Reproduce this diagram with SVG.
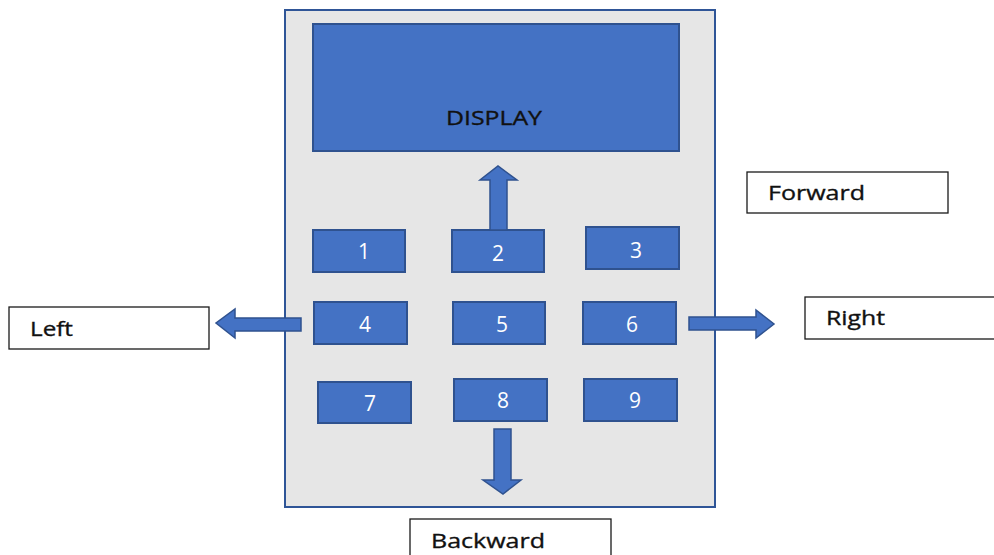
<svg xmlns="http://www.w3.org/2000/svg" width="994" height="555" viewBox="0 0 994 555">
  <style>
    .panel { fill: #e6e6e6; stroke: #2f5597; stroke-width: 2; }
    .key { fill: #4472c4; stroke: #2f528f; stroke-width: 2; }
    .keytxt { font-family: "Open Sans", "Liberation Sans", sans-serif; font-size: 21px; fill: #ffffff; text-anchor: middle; }
    .label { fill: #ffffff; stroke: #1a1a1a; stroke-width: 1.3; }
    .labtxt { font-family: "Open Sans", "Liberation Sans", sans-serif; font-size: 20px; fill: #111111; stroke: #111111; stroke-width: 0.35; }
    .arrow { fill: #4472c4; stroke: #2f528f; stroke-width: 1.5; }
  </style>

  <!-- keypad housing -->
  <g id="panel">
    <rect class="panel" x="285" y="10" width="430" height="497"/>
  </g>

  <!-- screen -->
  <g id="display">
    <rect class="key" x="313" y="24" width="366" height="127"/>
    <text class="labtxt" x="446" y="125" textLength="96" lengthAdjust="spacingAndGlyphs">DISPLAY</text>
  </g>

  <!-- number keys -->
  <g id="key1"><rect class="key" x="313" y="230" width="92" height="42"/><text class="keytxt" x="364" y="259">1</text></g>
  <g id="key2"><rect class="key" x="452" y="230" width="92" height="42"/><text class="keytxt" x="498" y="261">2</text></g>
  <g id="key3"><rect class="key" x="586" y="227" width="93" height="42"/><text class="keytxt" x="636" y="258">3</text></g>
  <g id="key4"><rect class="key" x="314" y="302" width="93" height="42"/><text class="keytxt" x="365" y="332">4</text></g>
  <g id="key5"><rect class="key" x="453" y="302" width="92" height="42"/><text class="keytxt" x="502" y="332">5</text></g>
  <g id="key6"><rect class="key" x="583" y="302" width="93" height="42"/><text class="keytxt" x="632" y="332">6</text></g>
  <g id="key7"><rect class="key" x="318" y="382" width="93" height="41"/><text class="keytxt" x="370" y="411">7</text></g>
  <g id="key8"><rect class="key" x="454" y="379" width="93" height="42"/><text class="keytxt" x="503" y="408">8</text></g>
  <g id="key9"><rect class="key" x="584" y="379" width="93" height="42"/><text class="keytxt" x="635" y="408">9</text></g>

  <!-- direction labels -->
  <g id="forward">
    <rect class="label" x="747" y="172" width="201" height="41"/>
    <text class="labtxt" x="768" y="200" textLength="97" lengthAdjust="spacingAndGlyphs">Forward</text>
  </g>
  <g id="left">
    <rect class="label" x="9" y="307" width="200" height="42"/>
    <text class="labtxt" x="30" y="336" textLength="43" lengthAdjust="spacingAndGlyphs">Left</text>
  </g>
  <g id="right">
    <rect class="label" x="805" y="297" width="200" height="42"/>
    <text class="labtxt" x="826" y="325" textLength="59" lengthAdjust="spacingAndGlyphs">Right</text>
  </g>
  <g id="backward">
    <rect class="label" x="410" y="519" width="201" height="50"/>
    <text class="labtxt" x="431" y="548" textLength="114" lengthAdjust="spacingAndGlyphs">Backward</text>
  </g>

  <!-- block arrows -->
  <g id="connectors">
    <polygon class="arrow" points="490,230 490,180 480,180 498,166 517,180 507,180 507,230"/>
    <polygon class="arrow" points="301,318 235,318 235,309 216,323 235,338 235,331 301,331"/>
    <polygon class="arrow" points="689,317 756,317 756,310 774,324 756,338 756,330 689,330"/>
    <polygon class="arrow" points="494,429 511,429 511,480 521,480 503,494 483,480 494,480"/>
  </g>
</svg>
